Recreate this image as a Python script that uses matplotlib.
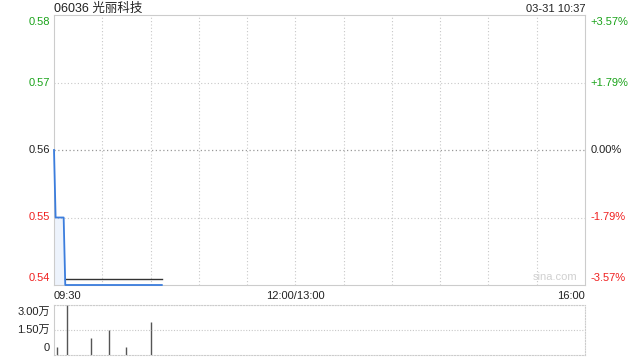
import matplotlib
matplotlib.use("Agg")
import matplotlib.pyplot as plt

plt.rcParams['font.family'] = ['Liberation Sans', 'Noto Sans CJK SC', 'DejaVu Sans']

# minutes since 09:30 (lunch break removed, 330 trading minutes)
price_times = [0, 1, 6, 7, 67]
price_vals = [0.56, 0.55, 0.55, 0.54, 0.54]
avg_times = [7, 67]
avg_vals = [0.5409, 0.5409]
vol_times = [2, 8, 23, 34, 45, 60]
vol_vals = [4700, 30000, 10200, 15000, 4700, 20000]

prev_close = 0.56
price_ticks = [0.58, 0.57, 0.56, 0.55, 0.54]
pct_labels = ['+3.57%', '+1.79%', '0.00%', '-1.79%', '-3.57%']
time_ticks = [0, 150, 330]
time_labels = ['09:30', '12:00/13:00', '16:00']
vol_ticks = [0, 15000, 30000]
vol_labels = ['0', '1.50万', '3.00万']

green = '#1aa31a'
red = '#f02020'
grid_c = '#c8c8c8'

fig = plt.figure(figsize=(6.4, 3.6), dpi=100)
ax = fig.add_axes([54/640, 1-285/360, 531/640, 270/360])
axv = fig.add_axes([54/640, 1-354.5/360, 531/640, 49.5/360])

ax.fill_between(price_times, price_vals, 0.54, color='#dce8fa', alpha=0.5, lw=0)
ax.plot(price_times, price_vals, color='#3b7ddd', lw=1.3, zorder=5, clip_on=False)
ax.plot(avg_times, avg_vals, color='#333333', lw=1, zorder=4)
ax.set_xlim(0, 330)
ax.set_ylim(0.54, 0.58)

for t in range(30, 330, 30):
    ax.axvline(t, color=grid_c, ls=(0, (1, 2)), lw=0.8)
for p in [0.57, 0.55]:
    ax.axhline(p, color=grid_c, ls=(0, (1, 2)), lw=0.8)
ax.axhline(prev_close, color='#999999', ls=(0, (1, 2)), lw=0.9)

for s in ax.spines.values():
    s.set_color('#cccccc')
ax.set_xticks([])
ax.set_yticks([])

def pcolor(v):
    if v > prev_close:
        return green
    if v < prev_close:
        return red
    return '#222222'

offs = {0.58: -5, 0.54: 5}
for v, lab in zip(price_ticks, pct_labels):
    dy = offs.get(v, 0)
    ax.annotate('%.2f' % v, (0, v), xytext=(-3, dy), textcoords='offset points',
                ha='right', va='center', fontsize=8, color=pcolor(v), annotation_clip=False)
    ax.annotate(lab, (330, v), xytext=(4, dy), textcoords='offset points',
                ha='left', va='center', fontsize=8, color=pcolor(v), annotation_clip=False)

aligns = ['left', 'center', 'right']
for t, lab, ha in zip(time_ticks, time_labels, aligns):
    ax.annotate(lab, (t, 0.54), xytext=(0, -4), textcoords='offset points',
                ha=ha, va='top', fontsize=8, color='#222222', annotation_clip=False)

ax.text(0, 1.0, '06036 光丽科技', transform=ax.transAxes, ha='left', va='bottom',
        fontsize=9, color='#222222')
ax.text(1, 1.003, '03-31 10:37', transform=ax.transAxes, ha='right', va='bottom',
        fontsize=8, color='#222222')
ax.text(0.985, 0.01, 'sina.com', transform=ax.transAxes, ha='right', va='bottom',
        fontsize=8, color='#d0d0d0')

axv.vlines(vol_times, 0, vol_vals, color='#555555', lw=1)
axv.set_xlim(0, 330)
axv.set_ylim(0, 30000)
axv.axhline(15000, color=grid_c, ls=(0, (1, 1.5)), lw=0.8)
axv.axhline(30000, color=grid_c, ls=(0, (1, 1.5)), lw=0.8)
for name, s in axv.spines.items():
    s.set_color('#cccccc')
    if name != 'left':
        s.set_linestyle((0, (1, 1.5)))
axv.set_xticks([])
axv.set_yticks([])
voffs = {0: 4.5, 15000: 0, 30000: -5}
for v, lab in zip(vol_ticks, vol_labels):
    axv.annotate(lab, (0, v), xytext=(-3, voffs[v]), textcoords='offset points',
                 ha='right', va='center', fontsize=8, color='#222222', annotation_clip=False)

fig.savefig('out.png', dpi=100)
